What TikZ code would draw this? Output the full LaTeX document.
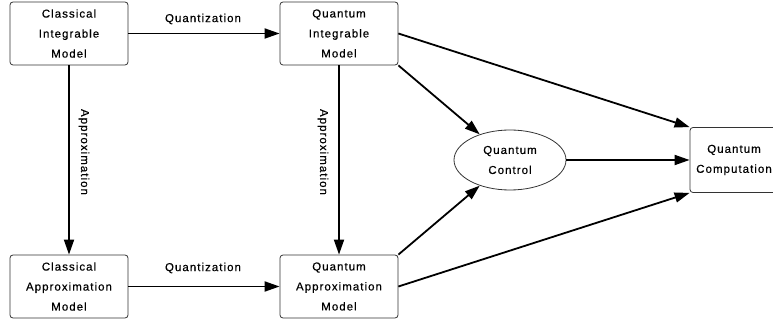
\documentclass[tikz,border=0pt]{standalone}
\usepackage{fontspec}
\setmainfont{Liberation Sans}[LetterSpace=9,FakeBold=0.4]
\usetikzlibrary{arrows.meta,shapes.geometric}
\begin{document}
\begin{tikzpicture}[x=1pt,y=-1pt,
  lbl/.style={font=\fontsize{11.5}{20}\selectfont},
  modelbox/.style={draw=black!80,line width=0.8pt,rounded corners=3pt,minimum width=118pt,minimum height=63pt,align=center,inner sep=0pt,font=\fontsize{11.5}{20}\selectfont},
  ctrl/.style={draw=black!80,line width=0.8pt,ellipse,minimum width=112pt,minimum height=60pt,inner sep=0pt,align=center,font=\fontsize{11.5}{20}\selectfont},
  conn/.style={line width=1.8pt,-{Triangle[length=15pt,width=10pt]}}]
\useasboundingbox (0,0) rectangle (773,320);
\clip (0,0) rectangle (773,320);
\node[modelbox] (cim) at (69,33.5) {Classical\\Integrable\\Model};
\node[modelbox] (qim) at (339,33.5) {Quantum\\Integrable\\Model};
\node[modelbox] (cam) at (69,286.5) {Classical\\Approximation\\Model};
\node[modelbox] (qam) at (339,286.5) {Quantum\\Approximation\\Model};
\node[ctrl] (qc) at (510,160) {Quantum\\Control};
\node[modelbox,minimum width=88pt,minimum height=65pt] (qcomp) at (734,160) {Quantum\\Computation};
\draw[conn] (cim) -- (qim);
\draw[conn] (cam) -- (qam);
\draw[conn] (cim) -- (cam);
\draw[conn] (qim) -- (qam);
\draw[conn] (qim.south east) -- (qc);
\draw[conn] (qam.north east) -- (qc);
\draw[conn] (qim.east) -- (qcomp.north west);
\draw[conn] (qam.east) -- (qcomp.south west);
\draw[conn] (qc) -- (qcomp);
\node[lbl] (l1) at (203,19) {Quantization};
\node[lbl] (l2) at (203,268) {Quantization};
\node[lbl,rotate=-90] (l3) at (84,152) {Approximation};
\node[lbl,rotate=-90] (l4) at (323,152) {Approximation};
\end{tikzpicture}
\end{document}
